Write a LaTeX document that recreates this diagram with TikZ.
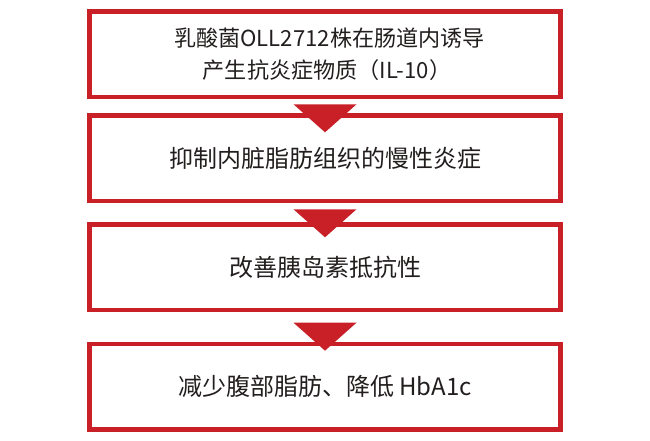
\documentclass[tikz,border=0pt]{standalone}
\usepackage{fontspec}
\setmainfont{Noto Sans CJK SC}
\definecolor{redline}{RGB}{200,32,38}
\definecolor{txt}{RGB}{35,30,30}
\begin{document}
\begin{tikzpicture}[x=1pt,y=-1pt,
  stepbox/.style={draw=redline,line width=4.5pt,minimum width=471pt,minimum height=85.5pt,
    inner sep=0pt,outer sep=0pt,text=txt,align=center,
    font=\fontsize{24pt}{31.7pt}\selectfont},
  firstbox/.style={stepbox,font=\fontsize{22.1pt}{31.7pt}\selectfont},
  tri/.style={fill=redline}]
\useasboundingbox (0,0) rectangle (650,440);
\node[firstbox] (b1) at (325,54) {\hspace*{9pt}\raisebox{-2pt}{乳酸菌OLL2712株在肠道内诱导}\\\hspace*{4pt}\raisebox{-2pt}{产生抗炎症物质（IL-10）}};
\node[stepbox] (b2) at (325,158.4) {\raisebox{-2pt}{抑制内脏脂肪组织的慢性炎症}};
\node[stepbox] (b3) at (325,267.3) {改善胰岛素抵抗性};
\node[stepbox] (b4) at (325,386.7) {\raisebox{-1pt}{减少腹部脂肪、降低 HbA1c}};
\coordinate (t1) at (325,104.3);
\coordinate (t2) at (325,209.3);
\coordinate (t3) at (325,322.7);
\foreach \t in {t1,t2,t3}
  \fill[tri] (\t) ++(-31.5,0) -- ++(63,0) -- ++(-31.5,28) -- cycle;
\end{tikzpicture}
\end{document}
